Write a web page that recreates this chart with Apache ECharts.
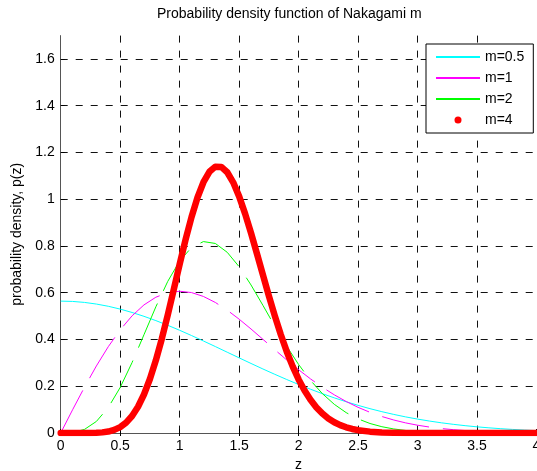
<!DOCTYPE html>
<html>
<head>
<meta charset="utf-8">
<script src="https://cdn.jsdelivr.net/npm/echarts@6/dist/echarts.min.js"></script>
<style>
  html, body { margin: 0; padding: 0; background: #fff; }
  #chart { width: 537px; height: 471px; }
</style>
</head>
<body>
<div id="chart"></div>
<script>
// Nakagami-m probability density, spread parameter Omega = 2
const seriesNames = ['m=0.5', 'm=1', 'm=2', 'm=4'];

// sample points for the three thin curves
const z = [0, 0.1, 0.2, 0.3, 0.4, 0.5, 0.6, 0.7, 0.8, 0.9, 1.0,
           1.1, 1.2, 1.3, 1.4, 1.5, 1.6, 1.7, 1.8, 1.9, 2.0,
           2.1, 2.2, 2.3, 2.4, 2.5, 2.6, 2.7, 2.8, 2.9, 3.0,
           3.1, 3.2, 3.3, 3.4, 3.5, 3.6, 3.7, 3.8, 3.9, 4.0];

const pM05 = [0.5642, 0.5628, 0.5586, 0.5516, 0.5421, 0.5300, 0.5156, 0.4991, 0.4808, 0.4608, 0.4394,
              0.4169, 0.3936, 0.3698, 0.3456, 0.3215, 0.2975, 0.2739, 0.2510, 0.2288, 0.2076,
              0.1873, 0.1682, 0.1503, 0.1337, 0.1183, 0.1041, 0.0912, 0.0795, 0.0689, 0.0595,
              0.0511, 0.0436, 0.0371, 0.0314, 0.0264, 0.0221, 0.0184, 0.0153, 0.0126, 0.0103];

const pM1 = [0, 0.0995, 0.1960, 0.2868, 0.3692, 0.4412, 0.5012, 0.5479, 0.5809, 0.6003, 0.6065,
             0.6007, 0.5841, 0.5584, 0.5254, 0.4870, 0.4449, 0.4008, 0.3562, 0.3125, 0.2707,
             0.2315, 0.1956, 0.1633, 0.1347, 0.1098, 0.0885, 0.0705, 0.0556, 0.0433, 0.0333,
             0.0254, 0.0191, 0.0143, 0.0105, 0.0077, 0.0055, 0.0039, 0.0028, 0.0019, 0.0013];

const pM2 = [0, 0.0020, 0.0154, 0.0494, 0.1091, 0.1947, 0.3014, 0.4203, 0.5399, 0.6486, 0.7358,
             0.7938, 0.8188, 0.8108, 0.7730, 0.7114, 0.6332, 0.5461, 0.4568, 0.3711, 0.2931,
             0.2251, 0.1684, 0.1227, 0.0871, 0.0603, 0.0407, 0.0269, 0.0173, 0.0109, 0.0067,
             0.0040, 0.0023, 0.0013, 0.0008, 0.0004, 0.0002, 0.0001, 0.0001, 0, 0];

// finer sampling for the steep m=4 curve
const zDense = [0, 0.05, 0.1, 0.15, 0.2, 0.25, 0.3, 0.35, 0.4, 0.45, 0.5,
                0.55, 0.6, 0.65, 0.7, 0.75, 0.8, 0.85, 0.9, 0.95, 1.0,
                1.05, 1.1, 1.15, 1.2, 1.25, 1.3, 1.35, 1.4, 1.45, 1.5,
                1.55, 1.6, 1.65, 1.7, 1.75, 1.8, 1.85, 1.9, 1.95, 2.0,
                2.05, 2.1, 2.15, 2.2, 2.25, 2.3, 2.35, 2.4, 2.45, 2.5,
                2.6, 2.7, 2.8, 2.9, 3.0, 3.1, 3.2, 3.3, 3.4, 3.5, 3.6, 3.7, 3.8, 3.9, 4.0];

const pM4 = [0, 0, 0, 0, 0.0001, 0.0003, 0.0010, 0.0027, 0.0063, 0.0133, 0.0253,
             0.0443, 0.0727, 0.1123, 0.1648, 0.2311, 0.3110, 0.4031, 0.5048, 0.6126, 0.7218,
             0.8274, 0.9242, 1.0073, 1.0728, 1.1174, 1.1394, 1.1383, 1.1155, 1.0724, 1.0123,
             0.9385, 0.8556, 0.7668, 0.6760, 0.5864, 0.5008, 0.4212, 0.3489, 0.2848, 0.2290,
             0.1815, 0.1419, 0.1094, 0.0831, 0.0623, 0.0461, 0.0337, 0.0243, 0.0173, 0.0121,
             0.0058, 0.0026, 0.0011, 0.0005, 0.0002, 0.0001, 0, 0, 0, 0, 0, 0, 0, 0, 0];

const pairs = (xs, ys) => xs.map((x, i) => [x, ys[i]]);

const FONT = 'Liberation Sans, Arial, sans-serif';
const gridLine = { show: true, showMinLine: false, showMaxLine: false,
                   lineStyle: { color: '#111', width: 1, type: [7, 8] } };

const chart = echarts.init(document.getElementById('chart'), null, { renderer: 'canvas' });

chart.setOption({
  animation: false,
  backgroundColor: '#fff',
  title: {
    text: 'Probability density function of Nakagami m',
    left: 157, top: 7, padding: 0,
    textStyle: { fontFamily: FONT, fontSize: 14, fontWeight: 'normal', color: '#000' }
  },
  grid: { left: 60.7, right: 0.5, top: 35.6, bottom: 38, containLabel: false, outerBoundsMode: 'none' },
  legend: {
    orient: 'vertical',
    left: 426, top: 44,
    padding: [6, 9, 6, 9],
    itemWidth: 44, itemHeight: 7, itemGap: 7,
    backgroundColor: '#fff',
    borderColor: '#000', borderWidth: 1,
    textStyle: { fontFamily: FONT, fontSize: 14, color: '#000', lineHeight: 14 },
    itemStyle: { opacity: 0 },
    data: [
      { name: seriesNames[0] },
      { name: seriesNames[1] },
      { name: seriesNames[2] },
      { name: seriesNames[3], icon: 'circle', itemStyle: { opacity: 1 } }
    ]
  },
  xAxis: [{
    type: 'value', min: 0, max: 4, interval: 0.5,
    name: 'z', nameLocation: 'middle', nameGap: 22,
    nameTextStyle: { fontFamily: FONT, fontSize: 14, color: '#000' },
    axisLine: { show: true, onZero: false, lineStyle: { color: '#555', width: 1 } },
    axisTick: { show: true, inside: true, length: 4, lineStyle: { color: '#000' } },
    axisLabel: { fontFamily: FONT, fontSize: 14, color: '#000', margin: 6 },
    splitLine: gridLine
  }, {
    type: 'value', min: 0, max: 4, interval: 0.5, position: 'top',
    axisLine: { show: false },
    axisTick: { show: true, inside: true, length: 3, lineStyle: { color: '#000' } },
    axisLabel: { show: false },
    splitLine: { show: false }
  }],
  yAxis: [{
    type: 'value', min: 0, max: 1.7, interval: 0.2,
    name: 'probability density, p(z)', nameLocation: 'middle', nameGap: 34,
    nameTextStyle: { fontFamily: FONT, fontSize: 14, color: '#000' },
    axisLine: { show: true, onZero: false, lineStyle: { color: '#555', width: 1 } },
    axisTick: { show: true, inside: true, length: 4, lineStyle: { color: '#000' } },
    axisLabel: { fontFamily: FONT, fontSize: 14, color: '#000', margin: 6, showMaxLabel: false },
    splitLine: gridLine
  }],
  series: [
    {
      name: seriesNames[0], type: 'line', symbol: 'none', smooth: false,
      data: pairs(z, pM05),
      itemStyle: { color: '#00ffff' },
      lineStyle: { color: '#00ffff', width: 1 }
    },
    {
      name: seriesNames[1], type: 'line', symbol: 'none', smooth: false,
      data: pairs(z, pM1),
      itemStyle: { color: '#ff00ff' },
      lineStyle: { color: '#ff00ff', width: 1, type: [48, 14] }
    },
    {
      name: seriesNames[2], type: 'line', symbol: 'none', smooth: false,
      data: pairs(z, pM2),
      itemStyle: { color: '#00ff00' },
      lineStyle: { color: '#00ff00', width: 1, type: [48, 14] }
    },
    {
      name: seriesNames[3], type: 'line', symbol: 'none', smooth: false,
      data: pairs(zDense, pM4),
      itemStyle: { color: '#ff0000' },
      lineStyle: { color: '#ff0000', width: 6.5, cap: 'round', join: 'round' }
    }
  ]
});
</script>
</body>
</html>
